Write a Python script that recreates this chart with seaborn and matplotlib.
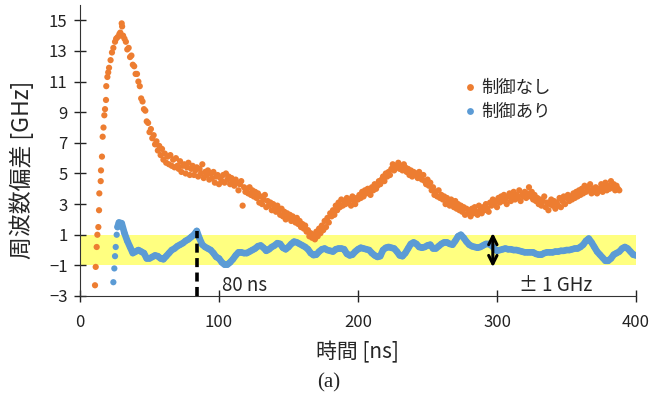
import numpy as np
import pandas as pd
import matplotlib
matplotlib.use("Agg")
import matplotlib.pyplot as plt
import seaborn as sns

# 制御なし : 立ち上がり部 (時間 ns, 偏差 GHz)
rise_t = [10.8, 11.3, 12.0, 12.5, 13.2, 13.7, 13.9, 14.9, 15.1, 15.8, 16.3, 16.9, 17.5, 18.0,
          18.7, 18.9, 19.7, 20.3, 20.9, 22.0, 23.0, 24.0, 25.2, 26.0, 27.0, 28.3, 29.0, 29.5,
          30.0, 30.3]
rise_y = [-2.3, -1.1, 0.2, 1.0, 1.5, 2.6, 3.7, 4.5, 5.2, 6.1, 7.4, 8.0, 8.8, 9.2,
          9.8, 10.7, 11.3, 11.6, 11.9, 12.4, 12.9, 13.2, 13.6, 13.8, 13.9, 14.1, 14.2, 14.0,
          14.8, 14.6]

# 制御なし : 31 ns から 1 ns 刻み
tail_y = [
    14.0, 13.8, 13.6, 13.1, 13.2, 12.6, 12.7, 12.1, 12.0, 11.5,
    11.5, 11.0, 10.7, 9.9, 9.7, 9.2, 9.1, 8.4, 8.3, 7.7,
    7.9, 7.3, 7.5, 6.9, 7.1, 6.5, 6.8, 6.2, 6.6, 5.9,
    6.3, 5.7, 6.1, 5.6, 6.2, 5.5, 5.9, 5.4, 6.0, 5.5,
    5.3, 5.8, 5.1, 5.5, 5.6, 5.0, 5.4, 5.7, 4.9, 5.3,
    5.5, 4.9, 5.2, 5.4, 4.8, 5.3, 5.0, 5.6, 4.7, 5.1,
    4.9, 5.2, 4.6, 5.0, 4.7, 5.1, 4.4, 4.8, 4.9, 4.3,
    4.7, 4.5, 4.9, 4.4, 5.0, 4.6, 4.8, 4.3, 4.7, 4.5,
    4.2, 4.6, 4.4, 3.9, 4.3, 4.5, 2.9, 4.1, 3.8, 4.0,
    3.7, 4.1, 3.6, 3.9, 3.5, 3.8, 3.4, 3.7, 3.1, 3.5,
    3.0, 3.3, 3.6, 2.8, 3.2, 2.9, 3.1, 2.6, 3.0, 2.7,
    2.5, 2.9, 2.6, 2.3, 2.7, 2.2, 2.5, 2.0, 2.4, 2.1,
    2.3, 1.9, 2.2, 2.0, 1.8, 2.1, 1.7, 1.9, 1.5, 1.7,
    1.4, 1.6, 1.2, 1.3, 0.9, 1.1, 0.8, 1.0, 0.7, 1.2,
    0.9, 1.4, 1.1, 1.6, 1.3, 1.9, 1.5, 2.1, 1.8, 2.4,
    2.2, 2.6, 2.3, 2.9, 2.6, 3.1, 2.8, 3.3, 2.9, 3.2,
    3.0, 3.4, 3.1, 3.3, 2.9, 3.5, 3.2, 3.0, 3.4, 3.3,
    3.6, 3.4, 3.8, 3.5, 3.9, 3.7, 4.0, 3.8, 3.6, 4.1,
    3.9, 4.3, 4.0, 4.2, 4.5, 4.3, 4.6, 4.8, 4.5, 5.0,
    4.8, 5.1, 4.9, 5.3, 5.6, 5.2, 5.5, 5.4, 5.7, 5.3,
    5.5, 5.2, 5.6, 5.4, 5.1, 5.3, 4.9, 5.2, 4.8, 5.1,
    4.9, 5.0, 4.7, 5.1, 4.8, 4.6, 4.9, 4.5, 4.3, 4.6,
    4.2, 4.4, 3.9, 4.1, 3.6, 3.8, 3.5, 3.9, 3.4, 3.6,
    3.3, 3.5, 3.0, 3.4, 3.2, 2.9, 3.3, 3.0, 2.8, 3.2,
    2.7, 3.0, 2.6, 2.9, 2.5, 2.8, 2.3, 2.7, 2.4, 2.6,
    2.2, 2.7, 2.4, 2.8, 2.5, 2.3, 2.9, 2.6, 2.4, 2.8,
    2.6, 3.0, 2.7, 2.5, 3.1, 2.9, 3.3, 3.0, 3.2, 2.8,
    3.4, 3.1, 3.5, 3.2, 3.6, 3.3, 3.0, 3.5, 3.7, 3.2,
    3.5, 3.8, 3.3, 3.6, 3.4, 3.9, 3.2, 3.6, 3.5, 3.8,
    3.4, 3.7, 4.1, 3.5, 3.8, 3.3, 3.6, 3.2, 3.4, 3.0,
    3.3, 2.9, 3.2, 3.5, 2.8, 3.1, 2.6, 3.0, 3.3, 2.9,
    3.2, 2.7, 3.1, 2.9, 3.4, 2.8, 3.2, 3.5, 3.0, 3.4,
    3.6, 3.2, 3.5, 3.3, 3.7, 3.4, 3.8, 3.5, 3.9, 3.6,
    4.0, 3.7, 4.2, 3.8, 4.1, 3.9, 4.3, 3.7, 4.0, 3.8,
    4.1, 3.7, 4.0, 3.9, 4.3, 3.8, 4.1, 4.4, 3.9, 4.2,
    4.0, 4.5, 4.1, 4.3, 3.9, 4.2, 4.0, 3.9,
]
tail_t0 = 31

# 制御あり : 立ち上がり部
ctrl_rise_t = [24.0, 24.7, 25.2, 25.7, 26.4, 27.0]
ctrl_rise_y = [-2.1, -1.2, -0.4, 0.2, 1.0, 1.5]

# 制御あり : 28 ns から 2 ns 刻み
ctrl_y = [
    1.8, 1.75, 1.1, 0.6, 0.2, -0.2, -0.1, 0.0, -0.1, -0.2,
    -0.55, -0.55, -0.45, -0.35, -0.4, -0.55, -0.6, -0.4, -0.2, 0.0,
    0.1, 0.25, 0.35, 0.45, 0.6, 0.7, 0.85, 1.0, 1.25, 0.75,
    0.35, 0.2, 0.1, 0.0, -0.2, -0.45, -0.55, -0.8, -0.95, -0.95,
    -0.8, -0.6, -0.35, -0.15, -0.15, -0.2, -0.2, -0.1, 0.0, 0.1,
    0.25, 0.3, 0.15, -0.05, 0.05, 0.2, 0.3, 0.45, 0.4, 0.15,
    0.05, 0.2, 0.4, 0.55, 0.5, 0.4, 0.3, 0.2, 0.05, -0.2,
    -0.33, -0.3, -0.1, 0.05, 0.1, 0.0, -0.05, -0.1, 0.05, 0.1,
    0.1, 0.05, -0.25, -0.35, -0.3, -0.1, 0.05, 0.15, 0.1, 0.05,
    0.0, -0.2, -0.35, -0.45, -0.4, 0.0, 0.15, 0.2, 0.15, 0.1,
    -0.1, -0.35, -0.4, -0.2, 0.1, 0.4, 0.5, 0.4, 0.2, 0.15,
    0.2, 0.3, 0.35, 0.1, 0.1, 0.25, 0.4, 0.5, 0.5, 0.4,
    0.35, 0.6, 0.9, 1.0, 0.8, 0.55, 0.35, 0.25, 0.2, 0.15,
    0.2, 0.3, 0.4, 0.4, 0.3, 0.1, -0.05, 0.0, 0.05, 0.1,
    0.05, 0.05, 0.0, 0.0, -0.05, -0.1, -0.15, -0.15, -0.15, -0.15,
    -0.25, -0.3, -0.3, -0.2, -0.15, -0.15, -0.15, -0.1, -0.1, -0.05,
    -0.05, 0.0, 0.0, 0.05, 0.1, 0.1, 0.2, 0.35, 0.6, 0.75,
    0.5, 0.2, -0.1, -0.3, -0.5, -0.7, -0.7, -0.55, -0.3, -0.2,
    -0.1, 0.1, 0.2, 0.1, -0.1, -0.3, -0.35,
]
ctrl_t0 = 28

labels = ["制御なし", "制御あり"]
colors = ["#ED7D31", "#5B9BD5"]
yticks = [-3, -1, 1, 3, 5, 7, 9, 11, 13, 15]
xticks = [0, 100, 200, 300, 400]
band = (-1, 1)
settle_t, settle_top = 84, 1.25
arrow_t = 297

free_t = list(rise_t) + [tail_t0 + i for i in range(len(tail_y))]
free_y = list(rise_y) + tail_y
ctrl_t = list(ctrl_rise_t) + [ctrl_t0 + 2 * i for i in range(len(ctrl_y))]
ctrl_all = list(ctrl_rise_y) + ctrl_y

df = pd.DataFrame({
    "t": free_t + ctrl_t,
    "y": free_y + ctrl_all,
    "series": [labels[0]] * len(free_t) + [labels[1]] * len(ctrl_t),
})
dense = pd.DataFrame({"t": ctrl_t[5:], "y": ctrl_all[5:]})

sns.set_style("ticks")
plt.rcParams["font.family"] = ["Noto Sans CJK JP", "DejaVu Sans"]

fig = plt.figure(figsize=(6.62, 4.01), dpi=100)
ax = fig.add_axes([80 / 662, 105 / 401, 556 / 662, 291 / 401])

ax.axhspan(band[0], band[1], color="#ffff80", zorder=0, lw=0)
sns.lineplot(data=dense, x="t", y="y", color=colors[1], lw=4.8, ax=ax,
             legend=False, zorder=2)
sns.scatterplot(data=df, x="t", y="y", hue="series", palette=colors,
                s=20, linewidth=0, ax=ax, zorder=3)

ax.plot([settle_t, settle_t], [-3, settle_top], color="black", lw=2.6,
        dashes=(2.5, 1.5), zorder=4)
ax.annotate("", xy=(arrow_t, -1.3), xytext=(arrow_t, 1.3),
            arrowprops=dict(arrowstyle="<->", lw=2.2, color="black",
                            mutation_scale=15), zorder=5)
ax.text(102, -2.3, "80 ns", fontsize=13.5, va="center", ha="left")
ax.text(316, -2.3, "± 1 GHz", fontsize=13.5, va="center", ha="left")

ax.set_xlim(0, 400)
ax.set_ylim(-3, 16)
ax.set_xticks(xticks)
ax.set_yticks(yticks)
ax.tick_params(direction="inout", length=8, width=1, labelsize=12, colors="#222222")
ax.tick_params(axis="y", pad=5)
ax.tick_params(axis="x", pad=9)
sns.despine(ax=ax)
for sp in ["left", "bottom"]:
    ax.spines[sp].set_color("#333333")

ax.set_xlabel("時間 [ns]", fontsize=15)
ax.xaxis.set_label_coords(0.5, -0.155)
ax.set_ylabel("周波数偏差 [GHz]", fontsize=16.5)
ax.yaxis.set_label_coords(-0.082, 0.435)

leg = ax.legend(loc="upper left", bbox_to_anchor=(0.685, 0.745), frameon=False,
                fontsize=12.5, handletextpad=0.2, borderaxespad=0, borderpad=0,
                labelspacing=0.35, markerscale=1.1, handlelength=1.0)

fig.text(0.496, 0.045, "(a)", fontsize=15, ha="center", va="center",
         family=["Liberation Serif", "DejaVu Serif"])

fig.savefig("out.png", dpi=100)
